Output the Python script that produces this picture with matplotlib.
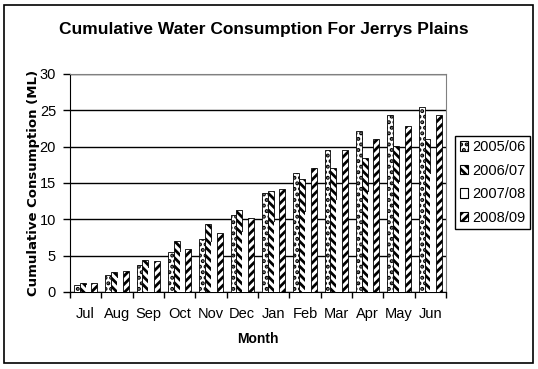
import numpy as np
import matplotlib
matplotlib.use("Agg")
from matplotlib import pyplot as plt
from matplotlib.patches import Rectangle, Patch

#%% Data
months = ["Jul", "Aug", "Sep", "Oct", "Nov", "Dec", "Jan", "Feb", "Mar", "Apr", "May", "Jun"]
seasons = ["2005/06", "2006/07", "2007/08", "2008/09"]
use_0506 = [0.9, 2.4, 3.7, 5.5, 7.3, 10.6, 13.6, 16.4, 19.6, 22.2, 24.3, 25.5]
use_0607 = [1.2, 2.8, 4.4, 7.0, 9.3, 11.3, 13.9, 15.6, 17.0, 18.5, 20.1, 21.0]
use_0708 = [0.9, 1.9, 3.3, 5.5, 6.9, 8.3, 9.7, 11.0, 12.6, 13.8, 15.1, 16.3]
use_0809 = [1.2, 2.9, 4.3, 5.9, 8.1, 10.2, 14.2, 17.0, 19.5, 21.1, 22.8, 24.3]

#%% Style
plt.rcParams['font.family'] = ['Liberation Sans', 'DejaVu Sans']
plt.rcParams['hatch.linewidth'] = 2.0

fig = plt.figure(figsize=(5.38, 3.69), dpi=100)
ax = fig.add_axes([0.130, 0.2087, 0.699, 0.5908])

x = np.arange(len(months))
w = 0.186
styles = [
    dict(facecolor="white", edgecolor="black", hatch="...", linewidth=0.6),
    dict(facecolor="white", edgecolor="black", hatch="\\\\\\\\", linewidth=0.6),
    dict(facecolor="white", edgecolor="white", linewidth=0),
    dict(facecolor="white", edgecolor="black", hatch="////", linewidth=0.6),
]
all_vals = [use_0506, use_0607, use_0708, use_0809]
for i, (vals, st) in enumerate(zip(all_vals, styles)):
    ax.bar(x + (i - 1.5) * w, vals, w, zorder=3, **st)

#%% Axes
ax.set_xlim(-0.5, 11.5)
ax.set_ylim(0, 30)
ax.set_yticks(range(0, 31, 5))
ax.set_xticks(x)
ax.set_xticklabels(months, fontsize=10.5)
ax.set_xticks(np.arange(-0.5, 12, 1), minor=True)
ax.tick_params(axis='x', which='major', length=0, pad=11)
ax.tick_params(axis='x', which='minor', length=4, width=1, direction='out')
ax.tick_params(axis='y', length=5, width=1, direction='out', labelsize=10.5, pad=5)
ax.yaxis.grid(True, color="black", linewidth=1, zorder=0)
ax.set_axisbelow(True)
for s in ["top", "right"]:
    ax.spines[s].set_color("#808080")
for s in ["left", "bottom"]:
    ax.spines[s].set_color("black")

fig.text(0.49, 0.919, "Cumulative Water Consumption For Jerrys Plains",
         ha="center", va="center", fontsize=12.5, fontweight="bold")
fig.text(0.062, 0.505, "Cumulative Consumption (ML)", rotation=90,
         ha="center", va="center", fontsize=9.5, fontweight="bold",
         family=["DejaVu Sans"])
fig.text(0.48, 0.081, "Month", ha="center", va="center",
         fontsize=10, fontweight="bold")

#%% Legend
handles = [Patch(facecolor="white", edgecolor="black", hatch=st.get("hatch"), linewidth=0.8)
           for st in styles]
leg = fig.legend(handles, seasons, loc="center left", bbox_to_anchor=(0.846, 0.5055),
                 fontsize=10.5, frameon=True, fancybox=False, edgecolor="black",
                 framealpha=1, handlelength=0.6, handleheight=0.6, handletextpad=0.3,
                 labelspacing=0.65, borderpad=0.3, borderaxespad=0)
leg.get_frame().set_linewidth(1)

#%% Border
fig.patches.append(Rectangle((0.0074, 0.0163), 0.983, 0.970, transform=fig.transFigure,
                             fill=False, edgecolor="black", linewidth=1.2))

fig.savefig("out.png", dpi=100)
